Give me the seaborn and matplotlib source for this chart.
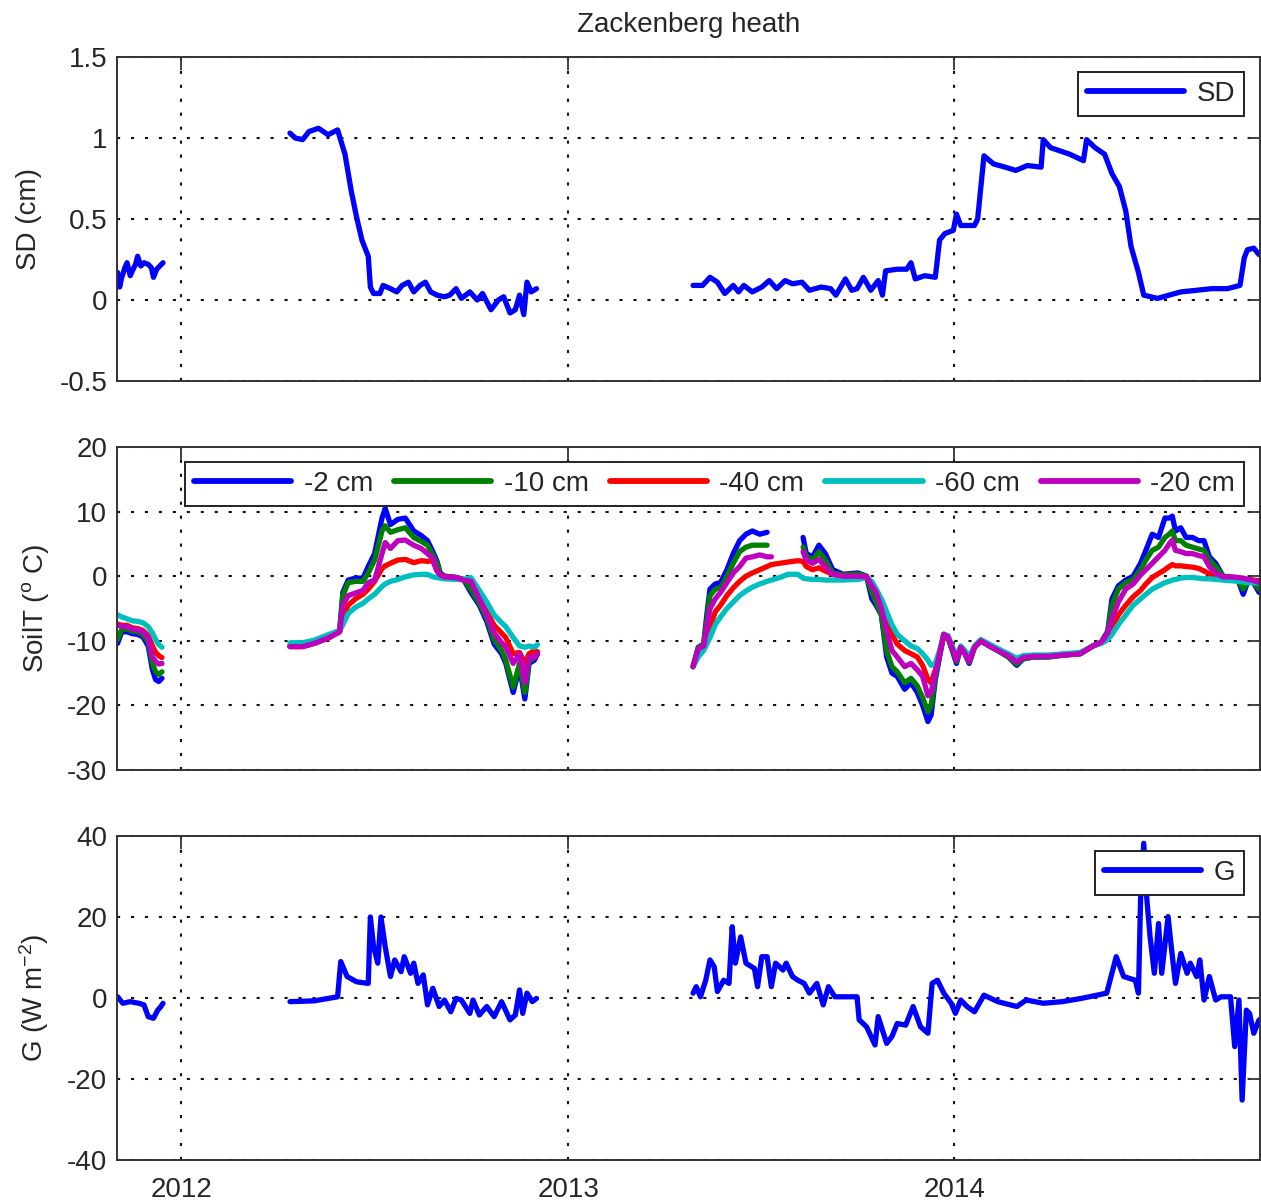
import numpy as np
import pandas as pd
import matplotlib
matplotlib.use("Agg")
import matplotlib.pyplot as plt
import matplotlib.dates as mdates
import seaborn as sns
from matplotlib.lines import Line2D

nan = np.nan
BASE = pd.Timestamp("2012-01-01")

# ---------------- data (day offsets from 2012-01-01) ----------------
# Snow depth SD (cm) -- segments separated by nan
sd_days = ([-60, -58, -56, -53, -51, -48, -46, -43, -41, -38, -35, -31, -28, -26, -23, -20, -17]
           + [nan] +
           [103, 108, 115, 121, 130, 139, 148, 155, 161, 166, 171, 177, 179, 182, 188, 191, 198, 204, 209, 215,
            220, 226, 231, 236, 242, 249, 254, 260, 265, 273, 280, 285, 293, 300, 305, 311, 316, 320, 324, 327,
            331, 336]
           + [nan] +
           [484, 493, 500, 507, 514, 522, 527, 532, 540, 549, 556, 563, 571, 578, 587, 594, 605, 614, 619, 628,
            634, 639, 645, 652, 659, 663, 666, 677, 686, 690, 694, 703, 713, 717, 722, 730, 733, 737, 750, 753,
            759, 768, 779, 789, 800, 813, 815, 822, 831, 840, 853, 856, 864, 873, 880, 887, 893, 898, 905, 910,
            923, 934, 945, 960, 974, 989, 1001, 1005, 1008, 1014, 1019])
sd_vals = ([0.17, 0.08, 0.14, 0.20, 0.23, 0.15, 0.18, 0.22, 0.27, 0.21, 0.23, 0.22, 0.20, 0.14, 0.19, 0.21, 0.23]
           + [nan] +
           [1.03, 1.00, 0.99, 1.04, 1.06, 1.02, 1.05, 0.90, 0.67, 0.51, 0.37, 0.27, 0.08, 0.04, 0.04, 0.09, 0.07,
            0.05, 0.09, 0.11, 0.05, 0.09, 0.11, 0.05, 0.03, 0.02, 0.03, 0.07, 0.01, 0.05, 0.00, 0.04, -0.06, 0.00,
            0.02, -0.08, -0.06, 0.03, -0.09, 0.11, 0.05, 0.07]
           + [nan] +
           [0.09, 0.09, 0.14, 0.11, 0.04, 0.09, 0.05, 0.09, 0.05, 0.08, 0.12, 0.07, 0.12, 0.10, 0.11, 0.06, 0.08,
            0.07, 0.03, 0.13, 0.06, 0.07, 0.14, 0.06, 0.12, 0.03, 0.18, 0.19, 0.19, 0.23, 0.13, 0.15, 0.14, 0.37,
            0.41, 0.43, 0.53, 0.46, 0.46, 0.50, 0.89, 0.84, 0.82, 0.80, 0.83, 0.82, 0.99, 0.94, 0.92, 0.90, 0.86,
            0.99, 0.94, 0.90, 0.78, 0.70, 0.55, 0.33, 0.17, 0.03, 0.01, 0.03, 0.05, 0.06, 0.07, 0.07, 0.09, 0.26,
            0.31, 0.32, 0.28])

# Soil temperature (deg C), common day grid per segment
soil_days = ([-60, -56, -51, -46, -41, -36, -31, -27, -24, -21, -18]
             + [nan] +
             [103, 115, 126, 140, 150, 153, 158, 165, 172, 177, 183, 190, 193, 198, 205, 212, 220, 227, 233, 238,
              242, 245, 249, 260, 267, 274, 282, 289, 296, 303, 307, 314, 320, 325, 329, 334, 337]
             + [nan] +
             [484, 489, 494, 497, 500, 505, 510, 516, 522, 528, 534, 540, 547, 554, 558, 566, 574, 583, 588, 591,
              597, 603, 609, 616, 626, 640, 648, 653, 657, 662, 667, 672, 677, 684, 690, 696, 701, 706, 709, 713,
              717, 721, 725, 729, 733, 737, 741, 745, 750, 756, 764, 772, 782, 790, 796, 806, 820, 835, 850, 862,
              870, 876, 880, 886, 893, 900, 907, 912, 918, 924, 930, 934, 937, 940, 945, 950, 956, 962, 967, 972,
              978, 985, 992, 999, 1004, 1008, 1013, 1019])

t_2cm = ([-10.4, -8.6, -8.6, -8.9, -9.0, -9.4, -10.8, -14.5, -16.0, -16.3, -15.8]
         + [nan] +
         [-10.8, -10.8, -10.3, -9.4, -8.4, -2.5, -0.6, -0.3, -0.3, 1.5, 3.5, 9.0, 10.5, 8.0, 8.8, 9.0, 7.0, 6.3,
          5.5, 3.8, 2.3, 0.5, 0.0, -0.2, -0.5, -2.5, -4.5, -7.0, -10.5, -12.0, -13.5, -18.0, -14.0, -19.0, -13.5,
          -13.0, -12.0]
         + [nan] +
         [-14.0, -11.0, -10.5, -6.0, -2.0, -1.2, -1.0, 1.0, 3.5, 5.5, 6.5, 7.0, 6.5, 6.8,
          nan, nan, nan, nan,
          6.0, 3.5, 3.0, 4.8, 3.5, 1.0, 0.3, 0.5, 0.0, -3.5, -4.5, -6.0, -12.5, -15.0, -15.5, -17.5, -16.5, -18.0,
          -20.0, -22.5, -21.5, -16.0, -12.5, -9.0, -9.5, -11.5, -13.5, -11.0, -12.0, -13.5, -11.0, -10.0, -10.8,
          -11.5, -12.5, -13.8, -12.8, -12.5, -12.5, -12.2, -12.0, -10.8, -10.2, -8.5, -3.5, -1.5, -0.6, 0.0, 2.0,
          4.0, 6.5, 6.0, 9.0, 9.0, 9.3, 7.0, 7.5, 6.0, 6.0, 5.5, 5.5, 3.0, 2.0, 0.0, -0.2, -0.5, -2.8, -1.0, -0.8,
          -2.5])
t_10cm = ([-9.8, -8.2, -8.2, -8.5, -8.6, -9.0, -10.2, -13.5, -14.8, -15.2, -14.8]
          + [nan] +
          [-10.8, -10.8, -10.3, -9.4, -8.4, -3.0, -1.0, -0.8, -0.8, 0.5, 2.5, 7.0, 7.8, 6.8, 7.2, 7.5, 6.0, 5.4,
           4.8, 3.2, 2.0, 0.4, 0.0, -0.2, -0.5, -2.0, -4.2, -6.5, -9.8, -11.5, -13.0, -17.2, -13.5, -18.0, -13.2,
           -12.6, -11.8]
          + [nan] +
          [-14.0, -11.0, -10.5, -7.0, -3.0, -2.0, -1.8, 0.0, 2.0, 3.8, 4.5, 4.8, 4.8, 4.8,
           nan, nan, nan, nan,
           4.5, 3.0, 2.5, 3.8, 2.5, 0.5, 0.2, 0.3, 0.0, -2.5, -4.0, -6.0, -11.5, -14.0, -14.8, -16.5, -15.8, -17.0,
           -18.8, -21.0, -20.0, -15.5, -12.3, -9.0, -9.5, -11.3, -13.2, -11.0, -12.0, -13.3, -11.0, -10.0, -10.8,
           -11.5, -12.5, -13.6, -12.8, -12.5, -12.5, -12.2, -12.0, -10.8, -10.2, -8.6, -4.5, -2.0, -1.0, -0.5, 1.0,
           2.5, 4.0, 4.5, 6.0, 6.5, 7.0, 5.5, 5.5, 4.8, 4.5, 4.2, 4.0, 2.5, 1.5, 0.0, -0.2, -0.5, -2.0, -1.0, -0.8,
           -2.0])
t_40cm = ([-7.4, -7.6, -7.6, -8.0, -8.1, -8.4, -9.2, -10.8, -11.8, -12.3, -12.6]
          + [nan] +
          [-10.9, -10.9, -10.4, -9.5, -8.6, -6.5, -4.5, -3.5, -2.8, -2.0, -0.8, 1.2, 1.6, 2.0, 2.5, 2.6, 2.1, 2.4,
           2.3, 2.4, 0.8, 0.3, -0.1, -0.2, -0.6, -0.5, -3.0, -5.5, -7.6, -8.8, -9.5, -12.0, -11.8, -13.5, -12.0,
           -11.5, -11.7]
          + [nan] +
          [-14.0, -12.0, -11.0, -9.5, -8.0, -5.5, -4.5, -3.0, -1.8, -0.8, 0.0, 0.5, 1.0, 1.5,
           1.8, 2.0, 2.2, 2.4,
           2.3, 1.5, 1.0, 1.3, 0.8, 0.3, 0.0, 0.0, -0.1, -1.0, -2.0, -4.0, -7.0, -9.0, -10.5, -11.5, -12.0, -12.5,
           -13.8, -16.0, -16.5, -14.5, -12.0, -9.2, -9.4, -11.0, -12.8, -11.0, -11.8, -13.0, -11.0, -10.0, -10.7,
           -11.4, -12.2, -13.0, -12.5, -12.3, -12.3, -12.1, -11.9, -10.8, -10.3, -9.3, -8.0, -6.0, -4.5, -3.2, -2.2,
           -1.2, -0.2, 0.4, 1.0, 1.5, 1.8, 1.6, 1.6, 1.5, 1.4, 1.2, 0.8, 0.4, 0.0, -0.1, -0.1, -0.3, -0.4, -0.5,
           -0.6, -0.7])
t_60cm = ([-6.0, -6.3, -6.6, -6.9, -7.0, -7.2, -7.8, -8.8, -9.8, -10.6, -11.0]
          + [nan] +
          [-10.3, -10.3, -9.9, -9.0, -8.4, -7.5, -5.8, -4.8, -4.2, -3.5, -2.8, -1.6, -1.2, -0.8, -0.5, -0.1, 0.2,
           0.3, 0.3, -0.1, -0.2, -0.3, -0.4, -0.5, -0.5, -0.2, -2.2, -4.0, -6.0, -7.2, -7.8, -9.5, -10.8, -11.0,
           -10.8, -11.0, -10.6]
          + [nan] +
          [-14.0, -12.5, -11.5, -10.5, -9.5, -7.5, -6.3, -5.0, -4.0, -3.0, -2.3, -1.7, -1.2, -0.8,
           -0.6, -0.2, 0.3, 0.3,
           -0.3, -0.4, -0.5, -0.5, -0.6, -0.6, -0.6, -0.5, -0.2, -0.8, -2.0, -3.5, -5.5, -7.5, -9.0, -10.0, -10.8,
           -11.2, -12.0, -13.0, -13.8, -13.5, -11.5, -9.0, -9.2, -10.8, -12.5, -10.8, -11.5, -12.5, -10.8, -9.8,
           -10.5, -11.2, -12.0, -12.7, -12.3, -12.2, -12.2, -12.0, -11.8, -10.8, -10.4, -9.8, -9.0, -7.5, -6.0,
           -4.5, -3.5, -2.8, -2.0, -1.5, -1.0, -0.8, -0.6, -0.5, -0.3, -0.2, -0.2, -0.3, -0.4, -0.4, -0.5, -0.6,
           -0.7, -0.8, -0.9, -1.0, -1.0, -1.1])
t_20cm = ([-7.5, -7.8, -7.8, -8.2, -8.3, -8.6, -9.6, -12.5, -13.2, -13.6, -13.5]
          + [nan] +
          [-10.9, -10.9, -10.4, -9.5, -8.6, -4.5, -3.0, -2.6, -2.2, -1.0, -0.6, 3.5, 5.2, 4.3, 5.5, 5.6, 4.8, 4.3,
           3.5, 2.8, 0.8, 0.2, -0.1, -0.2, -0.6, -0.8, -3.5, -6.0, -8.8, -10.3, -11.0, -13.5, -12.0, -16.5, -12.5,
           -12.6, -12.0]
          + [nan] +
          [-14.0, -11.2, -10.8, -8.0, -5.0, -3.5, -2.5, -1.0, 0.5, 1.5, 2.8, 3.0, 3.3, 3.0,
           3.0, nan, nan, nan,
           3.8, 2.5, 2.0, 2.6, 1.5, 0.3, 0.0, 0.0, -0.1, -1.5, -2.5, -5.0, -8.5, -11.5, -12.5, -14.0, -13.5, -14.5,
           -15.5, -18.5, -18.0, -15.0, -12.0, -9.0, -9.4, -11.2, -13.0, -11.0, -12.0, -13.2, -11.0, -10.0, -10.8,
           -11.5, -12.3, -13.3, -12.6, -12.4, -12.4, -12.2, -12.0, -10.8, -10.2, -8.8, -6.5, -4.0, -2.0, -1.2, 0.2,
           1.0, 2.0, 3.0, 4.0, 5.0, 5.6, 4.0, 3.8, 3.5, 3.5, 3.2, 3.0, 1.5, 0.5, -0.1, -0.1, -0.2, -0.3, -0.5,
           -0.6, -1.0])

soil_labels = ["-2 cm", "-10 cm", "-40 cm", "-60 cm", "-20 cm"]
soil_series = [t_2cm, t_10cm, t_40cm, t_60cm, t_20cm]
soil_colors = ["#0000ff", "#008000", "#ff0000", "#00bfbf", "#bf00bf"]

# Ground heat flux G (W m-2)
g_days = ([-60, -55, -48, -40, -35, -31, -26, -22, -19, -17]
          + [nan] +
          [103, 126, 148, 151, 157, 166, 177, 179, 182, 186, 189, 193, 198, 202, 208, 211, 217, 220, 224, 229,
           233, 238, 244, 249, 255, 260, 265, 273, 276, 282, 289, 296, 303, 311, 316, 320, 323, 327, 332, 336]
          + [nan] +
          [484, 487, 491, 496, 500, 504, 507, 513, 518, 521, 524, 529, 534, 542, 545, 549, 554, 558, 562, 569,
           572, 578, 583, 589, 594, 601, 607, 612, 618, 627, 639, 641, 648, 656, 659, 667, 672, 677, 685, 692,
           699, 706, 710, 715, 721, 728, 732, 737, 743, 750, 759, 772, 790, 799, 815, 833, 851, 875, 884, 891,
           902, 905, 907, 910, 913, 916, 920, 924, 927, 933, 936, 940, 945, 951, 954, 960, 963, 967, 972, 978,
           983, 992, 996, 1000, 1003, 1007, 1010, 1014, 1019])
g_vals = ([0.3, -1.3, -0.9, -1.3, -1.7, -4.6, -5.0, -3.0, -2.1, -1.3]
          + [nan] +
          [-0.9, -0.7, 0.3, 9.0, 5.3, 4.0, 3.6, 20.0, 12.7, 8.6, 20.0, 12.7, 5.3, 9.4, 6.5, 10.2, 6.1, 8.6, 3.6,
           5.7, -1.7, 2.4, -2.1, -0.5, -3.4, -0.1, -0.5, -3.8, -0.5, -4.2, -2.1, -4.6, -0.9, -5.4, -4.2, 2.0, -3.8,
           1.2, -0.9, -0.1]
          + [nan] +
          [1.2, 2.8, 0.3, 4.4, 9.4, 7.7, 1.6, 4.4, 3.6, 17.6, 8.6, 15.1, 8.6, 7.3, 2.8, 10.2, 10.2, 2.8, 8.6, 6.9,
           8.6, 5.3, 4.4, 3.6, 1.2, 3.6, -1.7, 2.8, 0.3, 0.3, 0.3, -5.4, -7.1, -11.6, -4.6, -11.2, -9.5, -6.3,
           -6.7, -2.1, -7.1, -8.7, 3.6, 4.4, 1.2, -1.3, -3.8, -0.5, -2.1, -3.4, 0.7, -0.9, -2.1, -0.5, -1.3, -0.9,
           -0.1, 1.2, 10.2, 5.3, 4.4, 1.2, 24.2, 38.2, 24.2, 15.1, 6.1, 18.4, 6.1, 20.1, 12.7, 3.6, 11.0, 6.1, 8.6,
           5.3, 9.4, -0.5, 5.3, -0.5, 0.3, 0.3, -12.0, -0.5, -25.2, -3.0, -3.8, -8.7, -5.4])

year_ticks = ["2012-01-01", "2013-01-01", "2014-01-01"]
year_labels = ["2012", "2013", "2014"]
x_range = ["2011-11-01 12:00", "2014-10-16 10:00"]


def to_frame(days, vals, name):
    df = pd.DataFrame({"day": days, "value": vals})
    df["seg"] = df["value"].isna().cumsum()
    df = df.dropna().copy()
    df["date"] = BASE + pd.to_timedelta(df["day"], unit="D")
    df["series"] = name
    return df


# ---------------- style ----------------
sns.set_theme(style="white")
plt.rcParams["font.family"] = ["Liberation Sans", "DejaVu Sans"]
plt.rcParams["mathtext.fontset"] = "custom"
plt.rcParams["mathtext.rm"] = "Liberation Sans"
plt.rcParams["mathtext.it"] = "Liberation Sans:italic"
plt.rcParams["mathtext.bf"] = "Liberation Sans:bold"

FS = 20
LW = 3.8
TXT = "#262626"

fig = plt.figure(figsize=(12.61, 12.04), dpi=100)
W = 1261.0
H = 1204.0
left = 117 / W
width = (1259.5 - 117) / W
ax1 = fig.add_axes([left, 1 - 381 / H, width, 324 / H])
ax2 = fig.add_axes([left, 1 - 770 / H, width, 323 / H])
ax3 = fig.add_axes([left, 1 - 1160 / H, width, 324 / H])

line_kw = dict(solid_capstyle="round", solid_joinstyle="round")

# SD
df_sd = to_frame(sd_days, sd_vals, "SD")
sns.lineplot(data=df_sd, x="date", y="value", units="seg", estimator=None, sort=False,
             color="#0000ff", linewidth=LW, legend=False, ax=ax1, **line_kw)

# Soil temperature
frames = [to_frame(soil_days, v, lab) for v, lab in zip(soil_series, soil_labels)]
df_soil = pd.concat(frames, ignore_index=True)
sns.lineplot(data=df_soil, x="date", y="value", hue="series", hue_order=soil_labels,
             palette=dict(zip(soil_labels, soil_colors)), units="seg", estimator=None, sort=False,
             linewidth=LW, legend=False, ax=ax2, **line_kw)

# G
df_g = to_frame(g_days, g_vals, "G")
sns.lineplot(data=df_g, x="date", y="value", units="seg", estimator=None, sort=False,
             color="#0000ff", linewidth=LW, legend=False, ax=ax3, **line_kw)

xt = [mdates.date2num(pd.Timestamp(t)) for t in year_ticks]
xl = [mdates.date2num(pd.Timestamp(t)) for t in x_range]

settings = [
    (ax1, (-0.5, 1.5), [-0.5, 0, 0.5, 1, 1.5], ["-0.5", "0", "0.5", "1", "1.5"], "SD (cm)", -0.066),
    (ax2, (-30, 20), [-30, -20, -10, 0, 10, 20], ["-30", "-20", "-10", "0", "10", "20"],
     r"SoilT ($^{\mathrm{o}}$ C)", -0.058),
    (ax3, (-40, 40), [-40, -20, 0, 20, 40], ["-40", "-20", "0", "20", "40"],
     r"G (W m$^{\mathrm{-2}}$)", -0.058),
]
for ax, ylim, yt, ytl, ylab, lx in settings:
    ax.set_xlim(xl)
    ax.set_ylim(ylim)
    ax.set_xticks(xt)
    ax.set_xticklabels(year_labels)
    ax.set_yticks(yt)
    ax.set_yticklabels(ytl)
    ax.set_xlabel("")
    ax.set_ylabel(ylab, fontsize=FS, color=TXT)
    ax.yaxis.set_label_coords(lx, 0.5)
    ax.set_axisbelow(True)
    ax.grid(True, linestyle=(0, (1.5, 5.2)), linewidth=1.5, color="#111111")
    for s in ax.spines.values():
        s.set_visible(True)
        s.set_color("#333333")
        s.set_linewidth(1.4)
    ax.tick_params(direction="in", length=9, width=1.3, top=True, right=True,
                   labelsize=FS, labelcolor=TXT, color="#333333", pad=7)
    ax.set_facecolor("white")

ax1.tick_params(labelbottom=False)
ax2.tick_params(labelbottom=False)
ax3.tick_params(axis="x", pad=12)

ax1.set_title("Zackenberg heath", fontsize=FS, color=TXT, pad=18)

leg_kw = dict(loc="upper right", fontsize=FS, frameon=True, fancybox=False, edgecolor="#222222",
              framealpha=1, handlelength=3.5, handletextpad=0.45, columnspacing=0.75,
              borderaxespad=0.55, borderpad=0.32, labelcolor=TXT)

h_sd = [Line2D([0], [0], color="#0000ff", lw=LW + 0.4)]
lg = ax1.legend(h_sd, ["SD"], **leg_kw)
lg.get_frame().set_linewidth(1.4)

h_soil = [Line2D([0], [0], color=c, lw=LW + 0.4) for c in soil_colors]
lg = ax2.legend(h_soil, soil_labels, ncol=5, **leg_kw)
lg.get_frame().set_linewidth(1.4)

h_g = [Line2D([0], [0], color="#0000ff", lw=LW + 0.4)]
lg = ax3.legend(h_g, ["G"], **leg_kw)
lg.get_frame().set_linewidth(1.4)

fig.patch.set_facecolor("white")
fig.savefig("out.png", dpi=100, facecolor="white")
